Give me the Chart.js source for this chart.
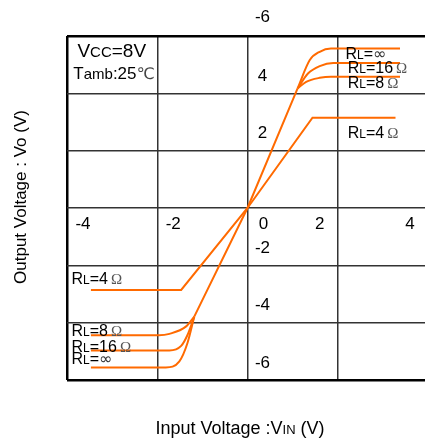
<!DOCTYPE html>
<html>
<head>
<meta charset="utf-8">
<script src="https://cdn.jsdelivr.net/npm/chart.js@4"></script>
<style>
  html, body { margin: 0; padding: 0; background: #fff; overflow: hidden; }
  #wrap { width: 440px; height: 441px; }
</style>
</head>
<body>
<div id="wrap"><canvas id="chart" width="440" height="441"></canvas></div>
<script>
// axis ticks and their printed labels (as on the original sheet)
const xTicks = [-4, -2, 0, 2, 4];
const xTickLabels = ["-4", "-2", "0", "2", "4"];
const yTicks = [6, 4, 2, -2, -4, -6];
const yTickLabels = ["-6", "4", "2", "-2", "-4", "-6"];

// transfer curves, Vin (V) -> Vo (V)
const rl4In = [-3.47, -1.47, 0, 1.44, 3.28];
const rl4Out = [-2.86, -2.86, 0, 3.15, 3.15];

// shared linear region for RL = 8, 16, inf
const steepIn = [-1.18, 0, 1.11];
const steepOut = [-3.79, 0, 4.17];

// clipping parts, bottom and top
const rl8BotIn = [-3.47, -1.96, -1.73, -1.36, -1.18];
const rl8BotOut = [-4.44, -4.44, -4.39, -4.13, -3.79];
const rl8TopIn = [1.11, 1.30, 1.60, 1.85, 3.38];
const rl8TopOut = [4.17, 4.40, 4.54, 4.58, 4.58];

const rl16BotIn = [-3.47, -1.73, -1.47, -1.33, -1.18];
const rl16BotOut = [-4.97, -4.97, -4.81, -4.43, -3.79];
const rl16TopIn = [1.11, 1.34, 1.60, 1.90, 3.38];
const rl16TopOut = [4.17, 4.69, 4.95, 5.06, 5.06];

const rlInfBotIn = [-3.47, -1.81, -1.51, -1.33, -1.18];
const rlInfBotOut = [-5.56, -5.56, -5.35, -4.71, -3.79];
const rlInfTopIn = [1.11, 1.38, 1.60, 1.85, 3.38];
const rlInfTopOut = [4.17, 5.16, 5.45, 5.56, 5.56];

// curve name tags
const tagValues = ["∞", "16", "8", "4", "4", "8", "16", "∞"];
const tagX = [2.17, 2.22, 2.22, 2.22, -3.9, -3.9, -3.9, -3.9];
const tagY = [5.37, 4.88, 4.36, 2.61, -2.47, -4.29, -4.84, -5.26];

const ORANGE = "#ff6a00";
const FONT = "'Liberation Sans', Arial, sans-serif";

function pts(xs, ys) {
  return xs.map((x, i) => ({ x: x, y: ys[i] }));
}

function drawRuns(ctx, runs, x, y, align) {
  let total = 0;
  runs.forEach((r) => { ctx.font = r[1]; total += ctx.measureText(r[0]).width; });
  let cx = align === "center" ? x - total / 2 : x;
  ctx.textAlign = "left";
  ctx.textBaseline = "alphabetic";
  runs.forEach((r) => {
    ctx.font = r[1];
    ctx.fillStyle = r[2] || "#000";
    ctx.fillText(r[0], cx, y);
    cx += ctx.measureText(r[0]).width;
  });
}

const textPlugin = {
  id: "texts",
  afterDraw(chart) {
    const ctx = chart.ctx;
    const xs = chart.scales.x, ys = chart.scales.y;
    ctx.save();

    // tick labels, placed inside the grid like the datasheet
    ctx.font = "17px " + FONT;
    ctx.fillStyle = "#000";
    ctx.textAlign = "center";
    ctx.textBaseline = "middle";
    const y0 = ys.getPixelForValue(0);
    xTicks.forEach((v, i) => {
      const off = v > 0 ? -18 : 16;
      ctx.fillText(xTickLabels[i], xs.getPixelForValue(v) + off, y0 + 16);
    });
    const x0 = xs.getPixelForValue(0);
    yTicks.forEach((v, i) => {
      const off = v === 6 ? -19 : -17;
      ctx.fillText(yTickLabels[i], x0 + 15, ys.getPixelForValue(v) + off);
    });

    // conditions box
    const big = "19px " + FONT, mid = "17px " + FONT, sm = "15px " + FONT;
    drawRuns(ctx, [["V", big], ["CC", sm], ["=8V", big]],
      xs.getPixelForValue(-3.77), ys.getPixelForValue(5.51) + 7);
    drawRuns(ctx, [["T", mid], ["amb", "15px " + FONT], [":25", mid], ["℃", "16px 'DejaVu Sans', sans-serif", "#444"]],
      xs.getPixelForValue(-3.86), ys.getPixelForValue(4.71) + 6);

    // curve tags
    const r = "16px " + FONT, l = "12px " + FONT, om = "15px 'Liberation Serif', serif";
    tagValues.forEach((t, i) => {
      const runs = [["R", r], ["L", l], ["=", r]];
      if (t === "∞") runs.push(["∞", "16px 'DejaVu Sans', sans-serif", "#333"]);
      else { runs.push([t, r]); runs.push(["\u2009Ω", om, "#555"]); }
      drawRuns(ctx, runs, xs.getPixelForValue(tagX[i]), ys.getPixelForValue(tagY[i]) + 5);
    });

    // axis titles
    drawRuns(ctx, [["Input Voltage :V", "18px " + FONT], ["IN", "13px " + FONT], [" (V)", "18px " + FONT]],
      240, 434, "center");
    ctx.translate(26, 197);
    ctx.rotate(-Math.PI / 2);
    drawRuns(ctx, [["Output Voltage : Vo (V)", "17px " + FONT]], 0, 0, "center");
    ctx.restore();
  }
};

function gridWidth(ctx, edgeValues) {
  const v = ctx.tick && ctx.tick.value;
  return edgeValues.indexOf(v) >= 0 ? 2.5 : 1.5;
}
function gridColor(ctx, edgeValues) {
  const v = ctx.tick && ctx.tick.value;
  return edgeValues.indexOf(v) >= 0 ? "#000" : "#333";
}

function curve(label, xs, ys, smooth) {
  return {
    label: label,
    data: pts(xs, ys),
    borderColor: ORANGE,
    borderWidth: 2,
    pointRadius: 0,
    fill: false,
    tension: 0,
    cubicInterpolationMode: smooth ? "monotone" : "default"
  };
}

new Chart(document.getElementById("chart"), {
  type: "line",
  data: {
    datasets: [
      curve("RL=4", rl4In, rl4Out, false),
      curve("linear", steepIn, steepOut, false),
      curve("RL=8 low", rl8BotIn, rl8BotOut, true),
      curve("RL=8 high", rl8TopIn, rl8TopOut, true),
      curve("RL=16 low", rl16BotIn, rl16BotOut, true),
      curve("RL=16 high", rl16TopIn, rl16TopOut, true),
      curve("RL=inf low", rlInfBotIn, rlInfBotOut, true),
      curve("RL=inf high", rlInfTopIn, rlInfTopOut, true)
    ]
  },
  options: {
    responsive: false,
    animation: false,
    layout: { padding: { left: 67, top: 36, right: 12, bottom: 61 } },
    plugins: { legend: { display: false }, tooltip: { enabled: false } },
    scales: {
      x: {
        type: "linear", min: -4, max: 4,
        ticks: { stepSize: 2, display: false },
        border: { display: false },
        grid: {
          drawTicks: false,
          lineWidth: (c) => gridWidth(c, [-4]),
          color: (c) => gridColor(c, [-4])
        }
      },
      y: {
        type: "linear", min: -6, max: 6,
        ticks: { stepSize: 2, display: false },
        border: { display: false },
        grid: {
          drawTicks: false,
          lineWidth: (c) => gridWidth(c, [6, -6]),
          color: (c) => gridColor(c, [6, -6])
        }
      }
    }
  },
  plugins: [textPlugin]
});
</script>
</body>
</html>
